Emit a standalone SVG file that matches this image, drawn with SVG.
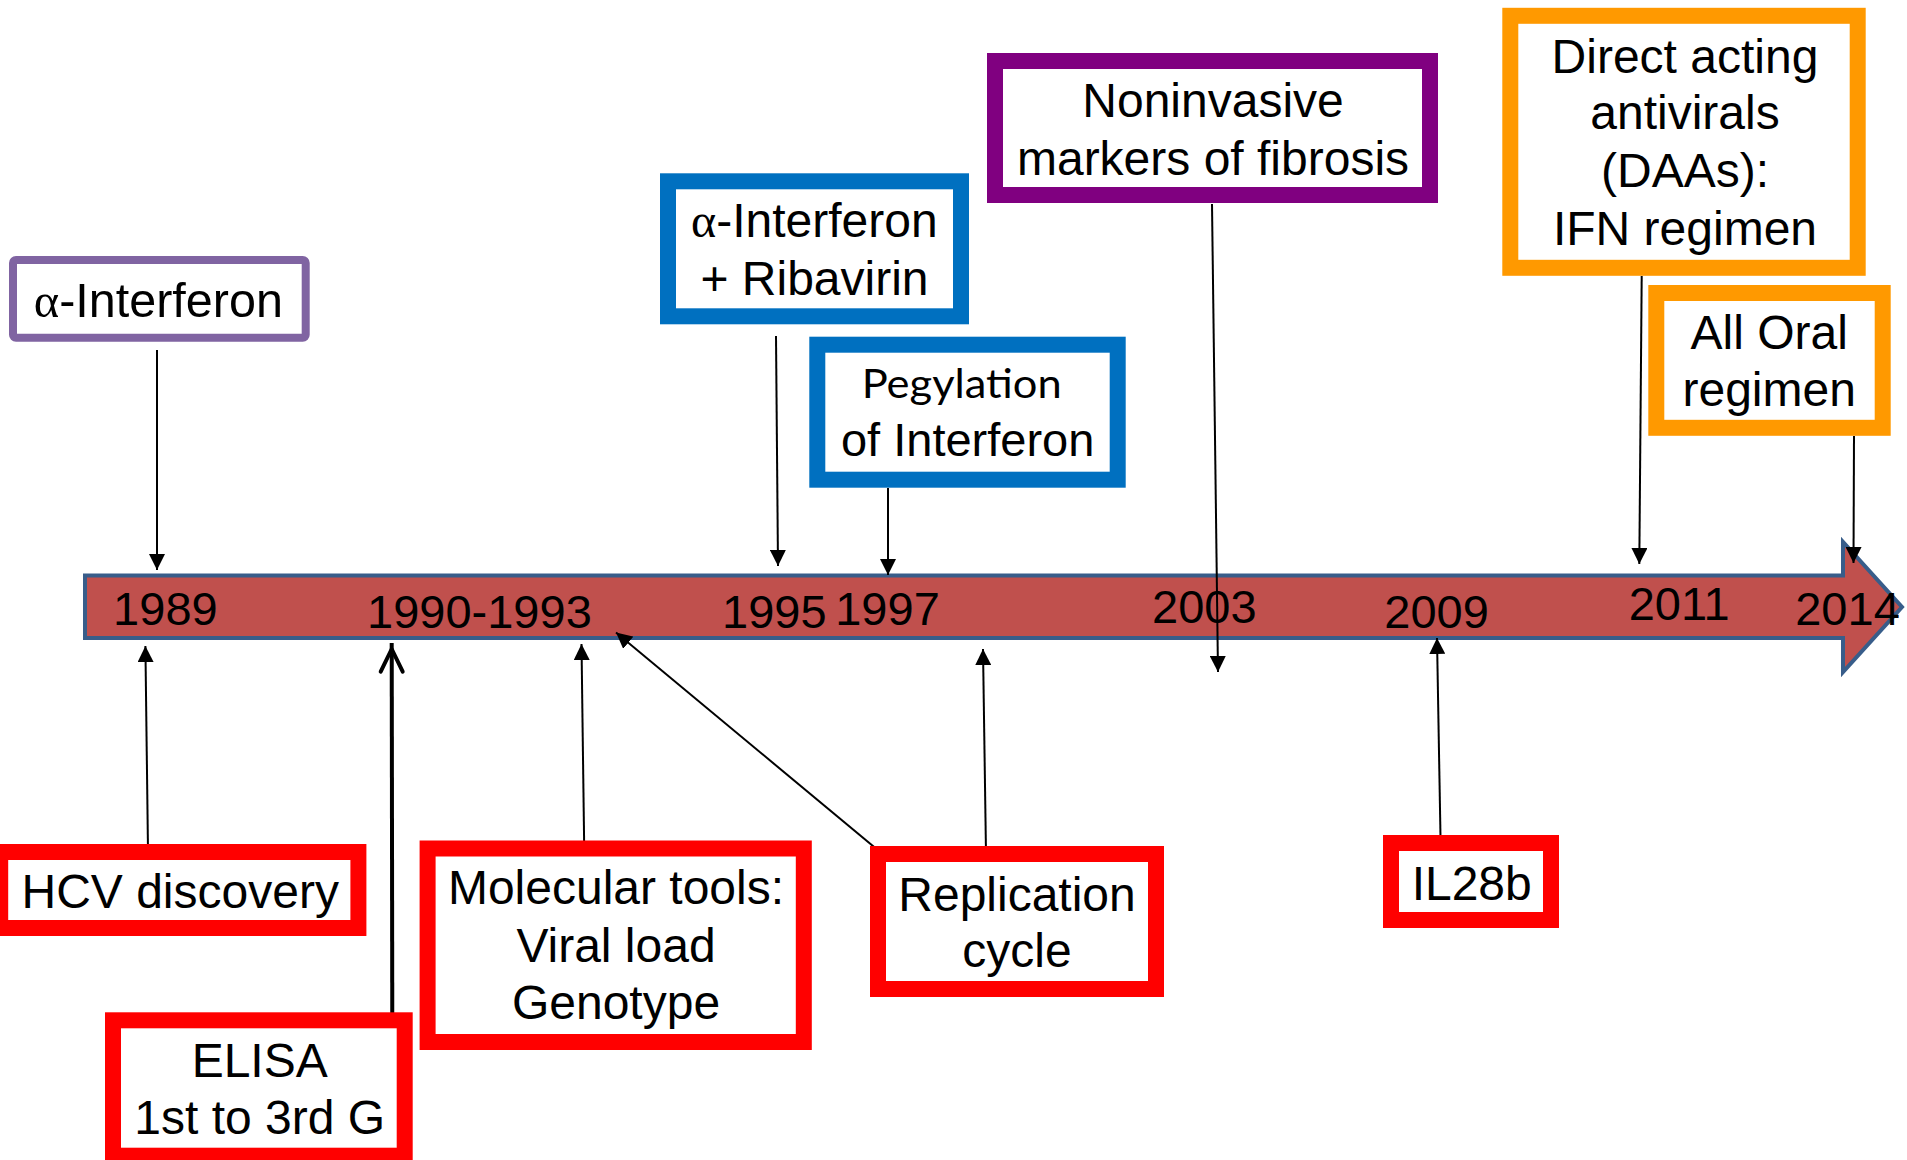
<svg xmlns="http://www.w3.org/2000/svg" width="1907" height="1160" viewBox="0 0 1907 1160">
<defs>
<style>
.t{font-family:"Liberation Sans",Arial,sans-serif;font-size:48px;fill:#000;text-anchor:middle}
.yr{font-family:"Liberation Sans",Arial,sans-serif;font-size:47px;fill:#000;text-anchor:middle}
.greek{font-family:"Liberation Serif","Times New Roman",serif}
.cal{font-family:Lato,"Liberation Sans",sans-serif;font-size:41px;fill:#000;text-anchor:middle}
.box{fill:#fff;stroke-width:16}
.red{stroke:#FF0000}
.blue{stroke:#0070C0}
.org{stroke:#FF9900}
.pur{stroke:#800080}
.con{stroke:#000;stroke-width:2;fill:none;marker-end:url(#ah)}
</style>
<marker id="ah" markerUnits="userSpaceOnUse" viewBox="0 0 16 16" refX="16" refY="8" markerWidth="16" markerHeight="16" orient="auto">
<path d="M0,0 L16,8 L0,16 z" fill="#000"/>
</marker>
</defs>
<rect width="1907" height="1160" fill="#fff"/>

<g id="timeline">
<polygon points="85,575.5 1843,575.5 1843,542 1902,607 1843,672 1843,638 85,638" fill="#C0504D" stroke="#385D8A" stroke-width="4"/>
<text class="yr" x="165.4" y="625">1989</text>
<text class="yr" x="479.4" y="628">1990-1993</text>
<text class="yr" x="774.3" y="628">1995</text>
<text class="yr" x="887.5" y="625">1997</text>
<text class="yr" x="1204.3" y="622.7">2003</text>
<text class="yr" x="1436.6" y="627.7">2009</text>
<text class="yr" x="1679.2" y="620">2011</text>
<text class="yr" x="1847.5" y="625">2014</text>
</g>

<g id="connectors">
<line class="con" x1="157" y1="350" x2="157" y2="570"/>
<line class="con" x1="776" y1="336" x2="778" y2="566"/>
<line class="con" x1="888" y1="488" x2="888" y2="575"/>
<line class="con" x1="1212" y1="204" x2="1218" y2="672"/>
<line class="con" x1="1641.7" y1="276" x2="1639.3" y2="564"/>
<line class="con" x1="1854" y1="436" x2="1853.5" y2="563"/>
<line class="con" x1="148" y1="851" x2="145.4" y2="646"/>
<line class="con" x1="584.2" y1="848" x2="581.5" y2="644"/>
<line class="con" x1="891" y1="861" x2="616" y2="632.5"/>
<line class="con" x1="986" y1="853" x2="983" y2="649"/>
<line class="con" x1="1440.6" y1="843" x2="1437" y2="638"/>
<line x1="392.3" y1="1031" x2="391.7" y2="643" stroke="#000" stroke-width="4"/>
<polyline points="380.7,671.7 391.7,649 402.7,671.7" fill="none" stroke="#000" stroke-width="4" stroke-linecap="round" stroke-linejoin="round"/>
</g>

<g id="n-alpha-ifn">
<rect x="13" y="260" width="292.7" height="77.7" rx="3" fill="#fff" stroke="#8064A2" stroke-width="8"/>
<text class="t" x="158.3" y="317.3" style="font-size:48.5px"><tspan class="greek">α</tspan>-Interferon</text>
</g>

<g id="n-ifn-riba">
<rect class="box blue" x="668" y="181.3" width="293" height="135"/>
<text class="t" x="814.3" y="237.3"><tspan class="greek">α</tspan>-Interferon</text>
<text class="t" x="814.5" y="295">+ Ribavirin</text>
</g>

<g id="n-peg">
<rect class="box blue" x="817.3" y="344.7" width="300.4" height="135"/>
<text class="cal" x="961.7" y="398.3" textLength="200" lengthAdjust="spacingAndGlyphs">Pegylation</text>
<text class="t" x="967.7" y="456" style="font-size:47px">of Interferon</text>
</g>

<g id="n-noninvasive">
<rect class="box pur" x="995" y="61" width="435" height="134"/>
<text class="t" x="1213" y="116.7">Noninvasive</text>
<text class="t" x="1213" y="174.7">markers of fibrosis</text>
</g>

<g id="n-daa">
<rect class="box org" x="1510.3" y="15.8" width="347.4" height="252"/>
<text class="t" x="1685" y="72.9">Direct acting</text>
<text class="t" x="1685" y="129.2">antivirals</text>
<text class="t" x="1685" y="187.3">(DAAs):</text>
<text class="t" x="1685" y="245">IFN regimen</text>
</g>

<g id="n-alloral">
<rect class="box org" x="1656.3" y="293" width="226.4" height="134.8"/>
<text class="t" x="1769.2" y="349">All Oral</text>
<text class="t" x="1769.2" y="405.5">regimen</text>
</g>

<g id="n-hcv">
<rect class="box red" x="0.2" y="852" width="358.2" height="76"/>
<text class="t" x="180.2" y="908.3">HCV discovery</text>
</g>

<g id="n-elisa">
<rect class="box red" x="113" y="1020.3" width="291.7" height="135.4"/>
<text class="t" x="259.7" y="1076.6">ELISA</text>
<text class="t" x="259.7" y="1134">1st to 3rd G</text>
</g>

<g id="n-molecular">
<rect class="box red" x="427.6" y="848.5" width="376.2" height="193.5"/>
<text class="t" x="616" y="904.4">Molecular tools:</text>
<text class="t" x="616" y="961.8">Viral load</text>
<text class="t" x="616" y="1018.5">Genotype</text>
</g>

<g id="n-replication">
<rect class="box red" x="878" y="854" width="278" height="135"/>
<text class="t" x="1017" y="910.7">Replication</text>
<text class="t" x="1017" y="966.7">cycle</text>
</g>

<g id="n-il28b">
<rect class="box red" x="1391" y="843" width="160" height="77"/>
<text class="t" x="1471.7" y="900" style="font-size:48px">IL28b</text>
</g>
</svg>
